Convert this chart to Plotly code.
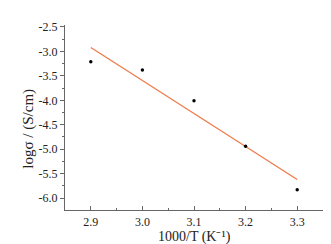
import plotly.graph_objects as go

inv_T = [2.9, 3.0, 3.1, 3.2, 3.3]
log_sigma = [-3.21, -3.38, -4.01, -4.94, -5.83]

fit_x = [2.9, 3.3]
fit_y = [-2.92, -5.62]

x_ticks = [2.9, 3.0, 3.1, 3.2, 3.3]
x_ticktext = ["2.9", "3.0", "3.1", "3.2", "3.3"]
y_ticks = [-2.5, -3.0, -3.5, -4.0, -4.5, -5.0, -5.5, -6.0]
y_ticktext = ["-2.5", "-3.0", "-3.5", "-4.0", "-4.5", "-5.0", "-5.5", "-6.0"]

fig = go.Figure()
fig.add_trace(go.Scatter(x=fit_x, y=fit_y, mode="lines",
                         line=dict(color="#EE7B4C", width=1.3), showlegend=False))
fig.add_trace(go.Scatter(x=inv_T, y=log_sigma, mode="markers",
                         marker=dict(color="black", size=3.4, symbol="circle"), showlegend=False))

font = "Liberation Serif, Times New Roman, serif"
axis_common = dict(showgrid=False, zeroline=False, showline=True, linecolor="#666",
                   linewidth=1.2, tickcolor="#666",
                   tickfont=dict(family=font, size=12, color="#222"))

fig.update_layout(
    width=331, height=244,
    margin=dict(l=57, r=16, t=17, b=42),
    plot_bgcolor="white", paper_bgcolor="white",
    xaxis=dict(range=[2.85, 3.35], tickvals=x_ticks, ticktext=x_ticktext,
               ticks="inside", ticklen=4,
               minor=dict(ticks="inside", ticklen=2, tickcolor="#666",
                          tickvals=[2.95, 3.05, 3.15, 3.25]),
               **axis_common),
    yaxis=dict(range=[-6.243, -2.46], tickvals=y_ticks, ticktext=y_ticktext,
               ticks="outside", ticklen=4,
               minor=dict(ticks="outside", ticklen=2, tickcolor="#666",
                          tickvals=[-2.75, -3.25, -3.75, -4.25, -4.75, -5.25, -5.75]),
               **axis_common),
    annotations=[
        dict(text="1000/T (K⁻¹)", xref="paper", yref="paper",
             x=0.5, y=-0.148, xanchor="center", yanchor="middle", showarrow=False,
             font=dict(family=font, size=14, color="#222")),
        dict(text="logσ / (S/cm)", xref="paper", yref="paper", textangle=-90,
             x=-0.143, y=0.44, xanchor="center", yanchor="middle", showarrow=False,
             font=dict(family=font, size=15, color="#222")),
    ],
)
fig.write_html("out.html")
